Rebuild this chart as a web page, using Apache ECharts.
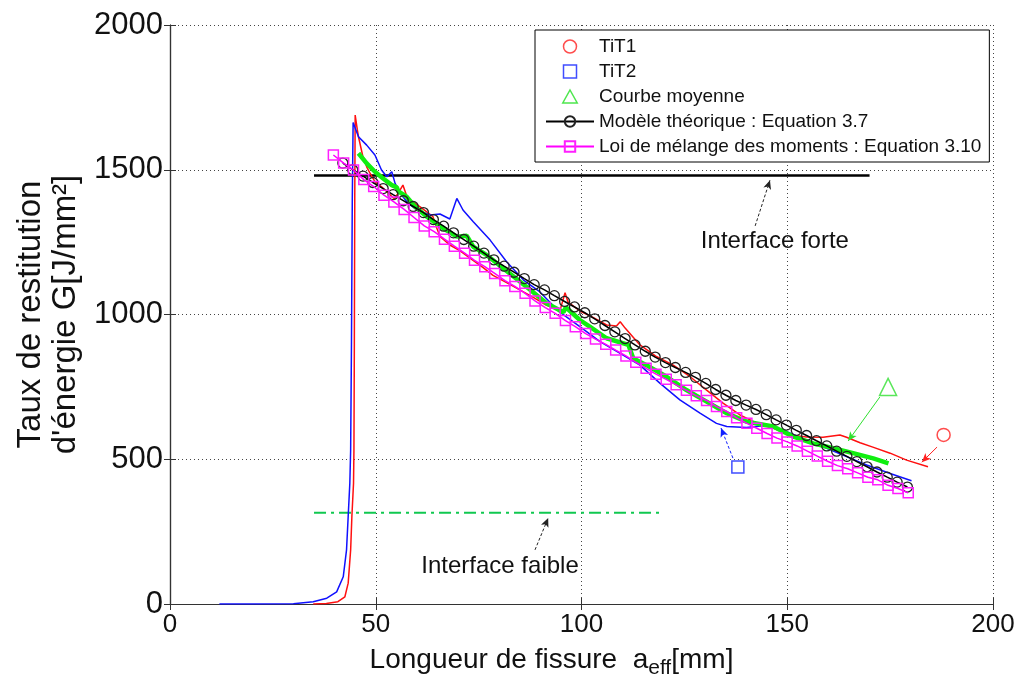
<!DOCTYPE html>
<html>
<head>
<meta charset="utf-8">
<script src="https://cdn.jsdelivr.net/npm/echarts@6/dist/echarts.min.js"></script>
<style>
html, body { margin: 0; padding: 0; background: #fff; }
#chartmain { width: 1024px; height: 691px; }
</style>
</head>
<body>
<div id="chartmain"></div>
<script>
// courbes mesurees [a_eff, G]
var tit1Curve = [[34.8,0],[38,2],[40.8,8],[42.5,25],[43.3,72],[43.9,187],[44.2,302],[44.6,417],[44.7,532],[44.8,900],[44.9,1400],[45,1689],[45.5,1640],[45.8,1614],[46.8,1550],[47.8,1510],[48.6,1488],[49.8,1459],[51.5,1440],[52.7,1424],[54.5,1400],[55.5,1420],[56.6,1447],[57.5,1410],[58.3,1395],[60.8,1372],[63.9,1338],[64.8,1300],[65.6,1270],[68,1240],[70.5,1220],[72.9,1195],[76.1,1162],[78.5,1135],[81.8,1110],[85,1085],[88.2,1060],[91.5,1032],[94.8,1015],[96,1075],[96.7,1044],[99.6,1012],[102.8,990],[106.1,964],[108.5,960],[109.4,975],[110.6,953],[114.2,895],[118.3,854],[122.3,825],[126.4,785],[130.4,739],[134.4,694],[138.5,653],[142.6,625],[146.5,608],[150.7,584],[154.7,577],[158.7,576],[162.8,584],[164.4,576],[167.7,557],[170.8,542],[175,521],[179,497],[184.2,474]];
var tit2Curve = [[12,0],[20,0],[30,1],[34.8,8],[38.1,20],[40.5,42],[42.1,94],[42.9,187],[43.3,302],[43.7,417],[43.9,532],[44.1,900],[44.3,1400],[44.5,1663],[45.8,1614],[47.8,1585],[49.8,1551],[51.4,1499],[52.7,1476],[53.9,1493],[54.7,1453],[55.9,1419],[57.9,1384],[60,1361],[63.2,1344],[65.6,1347],[68,1330],[69.7,1401],[71.2,1361],[73.7,1320],[77.8,1257],[81.8,1182],[85.9,1119],[89.9,1078],[94.4,1012],[99.6,958],[104.5,906],[109.4,866],[114.2,825],[119.1,762],[123.9,705],[128.8,659],[132.8,624],[135.3,613],[140.1,610],[145.8,618],[149.9,595],[154.7,566],[159.6,538],[164.4,509],[169.3,480],[175,451],[180.2,426]];
var meanCurve = [[45.8,1557],[47.8,1522],[49.8,1493],[51.8,1470],[53.9,1447],[55.1,1439],[55.5,1425],[57.5,1407],[59.5,1373],[62.4,1338],[66.4,1298],[69.7,1269],[72.1,1272],[73.7,1234],[77,1205],[81.8,1150],[86.7,1095],[91.5,1039],[95.6,1008],[96.2,1025],[99.6,981],[102,958],[106.1,918],[111.4,895],[112.6,848],[115.8,825],[120.7,785],[125.5,739],[130.4,699],[135.3,659],[140.1,630],[146.6,613],[151.5,578],[156.3,555],[161.2,538],[166,521],[170.9,503],[174.6,486]];

// modele theorique (Equation 3.7)
var modelX = [42,44.4,46.9,49.3,51.8,54.2,56.7,59.1,61.6,64.0,66.5,68.9,71.4,73.8,76.3,78.7,81.2,83.6,86.1,88.5,91.0,93.4,95.9,98.3,100.8,103.2,105.7,108.1,110.6,113.0,115.5,117.9,120.4,122.8,125.3,127.7,130.2,132.6,135.1,137.5,140.0,142.4,144.9,147.3,149.8,152.2,154.7,157.1,159.6,162.0,164.5,166.9,169.4,171.8,174.3,176.7,179.2];
var modelY = [1523,1500,1478,1456,1435,1414,1393,1373,1352,1328,1305,1282,1259,1236,1212,1189,1167,1146,1124,1103,1085,1065,1045,1026,1006,985,962,940,917,895,873,853,834,817,800,783,762,741,721,703,687,672,654,636,618,600,582,564,546,528,510,492,474,456,438,421,404];

// loi de melange des moments (Equation 3.10)
var mixX = [39.7,42.2,44.6,47.1,49.5,52.0,54.4,56.9,59.3,61.8,64.2,66.7,69.1,71.6,74.0,76.5,78.9,81.4,83.8,86.3,88.7,91.2,93.6,96.1,98.5,101.0,103.4,105.9,108.3,110.8,113.2,115.7,118.1,120.6,123.0,125.5,127.9,130.4,132.8,135.3,137.7,140.2,142.6,145.1,147.5,150.0,152.4,154.9,157.3,159.8,162.2,164.7,167.1,169.6,172.0,174.5,176.9,179.4];
var mixY = [1551,1523,1499,1466,1442,1412,1389,1363,1335,1306,1286,1260,1236,1212,1187,1165,1142,1117,1097,1073,1047,1024,1004,979,958,934,915,897,877,857,835,814,794,776,757,738,719,703,682,665,643,624,607,589,573,560,546,528,511,493,478,467,453,438,429,410,399,384];

// interfaces
var forteLine = [[35,1480],[170,1480]];
var faibleLine = [[35,315],[120,315]];

// reperes de legende dans le graphe et fleches
var tit1Marker = [[188,584]];
var tit2Marker = [[138,473]];
var meanMarker = [[174.5,750]];
var tit1Arrow = [[186.4,542],[182.7,490]];
var tit2Arrow = [[136.8,504],[133.9,608]];
var meanArrow = [[172.5,715],[164.8,563]];
var forteArrow = [[142.2,1306],[145.8,1464]];
var faibleArrow = [[88.7,187],[91.9,297]];
var forteText = [147,1254];
var faibleText = [80.2,131];

var legendNames = ['TiT1','TiT2','Courbe moyenne','Modèle théorique : Equation 3.7','Loi de mélange des moments : Equation 3.10'];

var squareIcon = 'path://M0,0L10,0L10,10L0,10Z';
var triangleIcon = 'path://M5,0L10,9L0,9Z';

function zip(xs, ys) {
	var out = [];
	for (var i = 0; i < xs.length; i++) out.push([xs[i], ys[i]]);
	return out;
}
function arrow(seg, color, type) {
	return {
		silent : true,
		symbol : ['none','arrow'],
		symbolSize : [6, 9],
		label : { show : false },
		lineStyle : { color : color, width : 1, type : type || 'solid' },
		data : [[{ coord : seg[0] }, { coord : seg[1] }]]
	};
}
function note(pos, text) {
	return {
		silent : true,
		symbol : 'circle',
		symbolSize : 1,
		itemStyle : { color : 'rgba(0,0,0,0)' },
		label : { show : true, position : 'inside', formatter : text, color : '#111', fontSize : 24, fontFamily : 'Liberation Sans' },
		data : [{ coord : pos }]
	};
}

var font = 'Liberation Sans';
var gridDots = { show : true, lineStyle : { color : '#444', width : 1, type : [1, 3] } };

var option = {
	animation : false,
	backgroundColor : '#fff',
	textStyle : { fontFamily : font },
	grid : { left : 170, right : 31, top : 25, bottom : 87 },
	legend : {
		orient : 'vertical',
		left : 535,
		top : 30,
		padding : [7, 8, 6, 10],
		itemWidth : 48,
		itemHeight : 13,
		itemGap : 6,
		borderColor : '#000',
		borderWidth : 1,
		backgroundColor : '#fff',
		textStyle : { fontSize : 19, color : '#111', fontFamily : font },
		data : [
			{ name : legendNames[0], icon : 'circle', itemStyle : { color : 'rgba(0,0,0,0)', borderColor : '#ff2020', borderWidth : 1.5 } },
			{ name : legendNames[1], icon : squareIcon, itemStyle : { color : 'rgba(0,0,0,0)', borderColor : '#1020ff', borderWidth : 1.5 } },
			{ name : legendNames[2], icon : triangleIcon, itemStyle : { color : 'rgba(0,0,0,0)', borderColor : '#20e020', borderWidth : 1.5 } },
			{ name : legendNames[3] },
			{ name : legendNames[4] }
		]
	},
	xAxis : [{
		type : 'value', min : 0, max : 200, interval : 50,
		name : 'Longueur de fissure  a{sub|eff}[mm]',
		nameLocation : 'middle', nameGap : 38,
		nameTextStyle : { fontSize : 28, color : '#111', fontFamily : font, padding : [0, 60, 0, 0],
			rich : { sub : { fontSize : 21, verticalAlign : 'bottom', padding : [16, 0, 0, 0], color : '#111', fontFamily : font } } },
		axisLine : { show : true, lineStyle : { color : '#333', width : 1.2 } },
		axisTick : { inside : true, length : 6, lineStyle : { color : '#333' } },
		axisLabel : { fontSize : 26, color : '#111', margin : 8 },
		splitLine : gridDots
	}, {
		type : 'value', min : 0, max : 200, interval : 50, position : 'top',
		axisLine : { show : true, lineStyle : { color : '#333', width : 1.2 } },
		axisTick : { inside : true, length : 6, lineStyle : { color : '#333' } },
		axisLabel : { show : false },
		splitLine : { show : false }
	}],
	yAxis : [{
		type : 'value', min : 0, max : 2000, interval : 500,
		name : 'Taux de restitution\nd\'énergie G[J/mm²]',
		nameLocation : 'middle', nameGap : 85, nameRotate : 90,
		nameTextStyle : { fontSize : 33, color : '#111', fontFamily : font, lineHeight : 35 },
		axisLine : { show : true, lineStyle : { color : '#333', width : 1.2 } },
		axisTick : { inside : true, length : 6, lineStyle : { color : '#333' } },
		axisLabel : { fontSize : 31, color : '#111', margin : 7, formatter : function (v) { return String(v); } },
		splitLine : gridDots
	}, {
		type : 'value', min : 0, max : 2000, interval : 500, position : 'right',
		axisLine : { show : true, lineStyle : { color : '#333', width : 1.2 } },
		axisTick : { inside : true, length : 6, lineStyle : { color : '#333' } },
		axisLabel : { show : false },
		splitLine : { show : false }
	}],
	series : [{
		name : 'TiT1 mesure', type : 'line', data : tit1Curve, showSymbol : false, silent : true,
		lineStyle : { color : '#ff1010', width : 1.5 }, itemStyle : { color : '#ff1010' }, z : 3
	}, {
		name : 'TiT2 mesure', type : 'line', data : tit2Curve, showSymbol : false, silent : true,
		lineStyle : { color : '#1010ff', width : 1.5 }, itemStyle : { color : '#1010ff' }, z : 3
	}, {
		name : 'Moyenne mesure', type : 'line', data : meanCurve, showSymbol : false, silent : true,
		lineStyle : { color : '#10ee10', width : 4.5 }, itemStyle : { color : '#10ee10' }, z : 4
	}, {
		name : legendNames[3], type : 'line', data : zip(modelX, modelY),
		symbol : 'circle', symbolSize : 10, showAllSymbol : true,
		lineStyle : { color : '#000', width : 1.5 },
		itemStyle : { color : 'rgba(0,0,0,0)', borderColor : '#222', borderWidth : 1.3 }, z : 5
	}, {
		name : legendNames[4], type : 'line', data : zip(mixX, mixY),
		symbol : 'rect', symbolSize : 10, showAllSymbol : true,
		lineStyle : { color : '#ff00ff', width : 1.5 },
		itemStyle : { color : 'rgba(0,0,0,0)', borderColor : '#ff20ff', borderWidth : 1.5 }, z : 6
	}, {
		name : legendNames[0], type : 'scatter', data : tit1Marker, symbol : 'circle', symbolSize : 13,
		itemStyle : { color : 'rgba(0,0,0,0)', borderColor : '#ff2020', borderWidth : 1.5 },
		markLine : arrow(tit1Arrow, '#ff2020')
	}, {
		name : legendNames[1], type : 'scatter', data : tit2Marker, symbol : 'rect', symbolSize : 12,
		itemStyle : { color : 'rgba(0,0,0,0)', borderColor : '#1020ff', borderWidth : 1.5 },
		markLine : arrow(tit2Arrow, '#1020ff', [3, 2])
	}, {
		name : legendNames[2], type : 'scatter', data : meanMarker, symbol : 'triangle', symbolSize : 17,
		itemStyle : { color : 'rgba(0,0,0,0)', borderColor : '#30e030', borderWidth : 1.5 },
		markLine : arrow(meanArrow, '#30e030')
	}, {
		name : 'Interface forte', type : 'line', data : forteLine, showSymbol : false, silent : true,
		lineStyle : { color : '#000', width : 2.5 }, z : 2,
		markLine : arrow(forteArrow, '#222', [3, 2]),
		markPoint : note(forteText, 'Interface forte')
	}, {
		name : 'Interface faible', type : 'line', data : faibleLine, showSymbol : false, silent : true,
		lineStyle : { color : '#10c850', width : 2, type : [12, 5, 3, 5] }, z : 2,
		markLine : arrow(faibleArrow, '#222', [3, 2]),
		markPoint : note(faibleText, 'Interface faible')
	}]
};

var myChart = echarts.init(document.getElementById('chartmain'));
myChart.setOption(option);
</script>
</body>
</html>
